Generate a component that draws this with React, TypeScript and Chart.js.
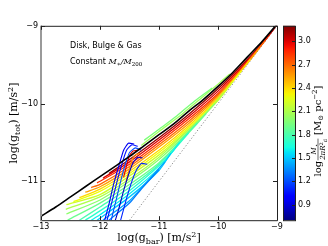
import React, { useEffect, useRef } from 'react';
import { Chart, registerables } from 'chart.js';

Chart.register(...registerables);

const X_TICKS = [-13, -12, -11, -10, -9];
const Y_TICKS = [-11, -10, -9];
const CB_TICKS = [0.9, 1.2, 1.5, 1.8, 2.1, 2.4, 2.7, 3.0];
const X_MIN = -13;
const X_MAX = -9;
const Y_MIN = -11.5;
const Y_MAX = -9;
const CB_MIN = 0.7;
const CB_MAX = 3.2;

// RAR reference relation (black)
const RAR_X = [-13, -12.75, -12.5, -12.25, -12, -11.75, -11.5, -11.25, -11, -10.75, -10.5, -10.25, -10, -9.75, -9.5, -9.25, -9];
const RAR_Y = [-11.45, -11.33, -11.2, -11.07, -10.94, -10.81, -10.68, -10.54, -10.4, -10.26, -10.1, -9.95, -9.78, -9.6, -9.4, -9.2, -8.98];

// 1:1 line (dotted)
const UNITY_X = [-11.5, -9];
const UNITY_Y = [-11.5, -9];

// model curves: surface density (colour) and [log gbar, log gtot] points
const MODEL_SIGMA = [
  3.15, 3.0, 2.85, 2.7, 2.55, 2.4, 2.3, 2.2, 2.1, 2.0, 1.9,
  2.05, 1.95,
  1.8, 1.7, 1.6, 1.5, 1.42, 1.32,
  3.0, 2.6,
  1.2, 1.05, 0.95, 0.85, 1.1,
];
const MODEL_CURVES = [
  [[-9.0, -8.99], [-9.25, -9.22], [-9.5, -9.43], [-10, -9.81], [-10.5, -10.14], [-11, -10.44], [-11.5, -10.72], [-11.85, -10.9]],
  [[-9.05, -9.04], [-9.25, -9.23], [-9.5, -9.45], [-10, -9.84], [-10.5, -10.17], [-11, -10.47], [-11.5, -10.75], [-11.95, -10.96]],
  [[-9.12, -9.11], [-9.5, -9.46], [-10, -9.87], [-10.5, -10.2], [-11, -10.5], [-11.5, -10.78], [-12.05, -11.02]],
  [[-9.2, -9.19], [-9.5, -9.47], [-10, -9.89], [-10.5, -10.23], [-11, -10.53], [-11.5, -10.81], [-12, -11.04], [-12.15, -11.08]],
  [[-9.3, -9.29], [-9.6, -9.57], [-10, -9.91], [-10.5, -10.26], [-11, -10.56], [-11.5, -10.84], [-12, -11.07], [-12.25, -11.14]],
  [[-9.45, -9.43], [-9.75, -9.71], [-10, -9.93], [-10.5, -10.29], [-11, -10.6], [-11.5, -10.87], [-12, -11.1], [-12.35, -11.21]],
  [[-9.6, -9.58], [-10, -9.94], [-10.5, -10.31], [-11, -10.63], [-11.5, -10.9], [-12, -11.13], [-12.45, -11.26]],
  [[-9.75, -9.72], [-10, -9.96], [-10.5, -10.33], [-11, -10.66], [-11.5, -10.93], [-12, -11.17], [-12.57, -11.3]],
  [[-9.9, -9.86], [-10.2, -10.12], [-10.5, -10.34], [-11, -10.69], [-11.5, -10.97], [-12, -11.2], [-12.58, -11.36]],
  [[-10.05, -10.0], [-10.5, -10.36], [-11, -10.72], [-11.5, -11.0], [-12, -11.24], [-12.57, -11.42]],
  [[-10.2, -10.13], [-10.5, -10.38], [-11, -10.76], [-11.5, -11.04], [-12, -11.28], [-12.55, -11.5]],
  [[-9.8, -9.62], [-10, -9.75], [-10.3, -9.94], [-10.6, -10.13], [-11, -10.36], [-11.3, -10.54]],
  [[-10.1, -9.8], [-10.4, -9.97], [-10.7, -10.16], [-11, -10.33], [-11.25, -10.47]],
  [[-10.35, -10.25], [-10.6, -10.45], [-11, -10.78], [-11.5, -11.08], [-12, -11.33], [-12.35, -11.5]],
  [[-10.5, -10.38], [-10.75, -10.6], [-11, -10.8], [-11.5, -11.12], [-12, -11.38], [-12.25, -11.5]],
  [[-10.65, -10.5], [-11, -10.83], [-11.5, -11.16], [-12, -11.43], [-12.15, -11.5]],
  [[-10.8, -10.64], [-11, -10.86], [-11.5, -11.2], [-12.05, -11.5]],
  [[-10.9, -10.75], [-11.2, -11.0], [-11.5, -11.25], [-11.95, -11.5]],
  [[-11.0, -10.85], [-11.3, -11.1], [-11.5, -11.28], [-11.85, -11.5]],
  [[-11.36, -10.6], [-11.44, -10.61], [-11.5, -10.67], [-11.55, -10.8], [-11.6, -10.95]],
  [[-11.32, -10.64], [-11.4, -10.66], [-11.46, -10.73], [-11.51, -10.86], [-11.56, -11.0]],
  [[-11.3, -10.6], [-11.4, -10.57], [-11.5, -10.63], [-11.57, -10.78], [-11.65, -11.0], [-11.73, -11.25], [-11.81, -11.5]],
  [[-11.36, -10.55], [-11.46, -10.53], [-11.55, -10.6], [-11.63, -10.78], [-11.71, -11.0], [-11.8, -11.27], [-11.88, -11.5]],
  [[-11.42, -10.52], [-11.52, -10.51], [-11.6, -10.6], [-11.68, -10.8], [-11.77, -11.04], [-11.85, -11.3], [-11.92, -11.5]],
  [[-11.28, -10.7], [-11.36, -10.69], [-11.44, -10.76], [-11.51, -10.9], [-11.6, -11.12], [-11.68, -11.35], [-11.74, -11.5]],
  [[-11.2, -10.78], [-11.3, -10.77], [-11.38, -10.85], [-11.46, -11.0], [-11.55, -11.22], [-11.65, -11.5]],
];
const HOOK_START = 19;

// matplotlib "jet" colormap segments
const JET_R = [[0, 0], [0.35, 0], [0.66, 1], [0.89, 1], [1, 0.5]];
const JET_G = [[0, 0], [0.125, 0], [0.375, 1], [0.64, 1], [0.91, 0], [1, 0]];
const JET_B = [[0, 0.5], [0.11, 1], [0.34, 1], [0.65, 0], [1, 0]];

function seg(pts: number[][], t: number) {
  for (let i = 1; i < pts.length; i++) {
    if (t <= pts[i][0]) {
      const [x0, y0] = pts[i - 1];
      const [x1, y1] = pts[i];
      return y0 + ((t - x0) / (x1 - x0)) * (y1 - y0);
    }
  }
  return pts[pts.length - 1][1];
}
function jet(t: number) {
  const c = Math.max(0, Math.min(1, t));
  const r = Math.round(seg(JET_R, c) * 255);
  const g = Math.round(seg(JET_G, c) * 255);
  const b = Math.round(seg(JET_B, c) * 255);
  return `rgb(${r},${g},${b})`;
}
function sigmaColor(s: number) {
  return jet((s - CB_MIN) / (CB_MAX - CB_MIN));
}

const SANS = '"DejaVu Sans"';
const SERIF = '"DejaVu Serif"';
const minus = (v: number) => (v < 0 ? '\u2212' + Math.abs(v) : String(v));

type Part = { t: string; size: number; fam?: string; style?: string; dy?: number };
function partsWidth(ctx: CanvasRenderingContext2D, parts: Part[]) {
  let w = 0;
  for (const p of parts) {
    ctx.font = `${p.style || ''} ${p.size}px ${p.fam || SERIF}`;
    w += ctx.measureText(p.t).width;
  }
  return w;
}
function drawParts(ctx: CanvasRenderingContext2D, parts: Part[], x: number, y: number, align: 'left' | 'center') {
  const w = partsWidth(ctx, parts);
  let cx = align === 'center' ? x - w / 2 : x;
  ctx.textAlign = 'left';
  ctx.textBaseline = 'alphabetic';
  for (const p of parts) {
    ctx.font = `${p.style || ''} ${p.size}px ${p.fam || SERIF}`;
    ctx.fillText(p.t, cx, y + (p.dy || 0));
    cx += ctx.measureText(p.t).width;
  }
  return w;
}

const decorPlugin = {
  id: 'decor',
  afterDraw(chart: any) {
    const ctx: CanvasRenderingContext2D = chart.ctx;
    const { left, right, top, bottom } = chart.chartArea;
    const xs = chart.scales.x;
    const ys = chart.scales.y;
    const cb = chart.scales.cb;
    ctx.save();

    // frame
    ctx.strokeStyle = '#222';
    ctx.lineWidth = 1;
    ctx.beginPath();
    ctx.moveTo(left, top + 0.5);
    ctx.lineTo(right + 0.5, top + 0.5);
    ctx.lineTo(right + 0.5, bottom + 0.5);
    ctx.lineTo(left, bottom + 0.5);
    ctx.stroke();
    ctx.strokeStyle = '#9a9a9a';
    ctx.lineWidth = 2;
    ctx.beginPath();
    ctx.moveTo(left, top);
    ctx.lineTo(left, bottom + 1);
    ctx.stroke();

    // inward ticks
    ctx.strokeStyle = '#222';
    ctx.lineWidth = 1;
    ctx.beginPath();
    for (const v of X_TICKS) {
      const px = Math.round(xs.getPixelForValue(v)) + 0.5;
      ctx.moveTo(px, bottom);
      ctx.lineTo(px, bottom - 4);
      ctx.moveTo(px, top);
      ctx.lineTo(px, top + 4);
    }
    for (const v of Y_TICKS) {
      const py = Math.round(ys.getPixelForValue(v)) + 0.5;
      ctx.moveTo(left, py);
      ctx.lineTo(left + 4, py);
      ctx.moveTo(right, py);
      ctx.lineTo(right - 4, py);
    }
    ctx.stroke();

    // colorbar
    const cbL = 283;
    const cbW = 12;
    const cbTop = cb.getPixelForValue(CB_MAX);
    const cbBot = cb.getPixelForValue(CB_MIN);
    const grad = ctx.createLinearGradient(0, cbBot, 0, cbTop);
    for (let i = 0; i <= 40; i++) grad.addColorStop(i / 40, jet(i / 40));
    ctx.fillStyle = grad;
    ctx.fillRect(cbL, cbTop, cbW, cbBot - cbTop);
    ctx.strokeStyle = '#222';
    ctx.lineWidth = 1;
    ctx.strokeRect(cbL + 0.5, cbTop + 0.5, cbW, cbBot - cbTop);
    ctx.beginPath();
    for (const v of CB_TICKS) {
      const py = Math.round(cb.getPixelForValue(v)) + 0.5;
      ctx.moveTo(cbL + cbW, py);
      ctx.lineTo(cbL + cbW - 3, py);
    }
    ctx.stroke();

    ctx.fillStyle = '#000';
    // x title
    drawParts(ctx, [
      { t: 'log(g', size: 11 },
      { t: 'bar', size: 8, dy: 2.5 },
      { t: ') [m/s', size: 11 },
      { t: '2', size: 8, dy: -4 },
      { t: ']', size: 11 },
    ], (left + right) / 2, 241, 'center');

    // y title
    ctx.save();
    ctx.translate(17, (top + bottom) / 2);
    ctx.rotate(-Math.PI / 2);
    drawParts(ctx, [
      { t: 'log(g', size: 11 },
      { t: 'tot', size: 8, dy: 2.5 },
      { t: ') [m/s', size: 11 },
      { t: '2', size: 8, dy: -4 },
      { t: ']', size: 11 },
    ], 0, 0, 'center');
    ctx.restore();

    // colorbar label
    ctx.save();
    ctx.translate(321, 131);
    ctx.rotate(-Math.PI / 2);
    const logParts: Part[] = [{ t: 'log', size: 10 }];
    const numParts: Part[] = [{ t: 'M', size: 7, style: 'italic' }, { t: '\u22C6', size: 5, dy: 1.5 }];
    const denParts: Part[] = [
      { t: '2\u03C0R', size: 7, style: 'italic' },
      { t: '2', size: 5, dy: -2.5 },
      { t: 'd', size: 5, dy: 1.5 },
    ];
    const tailParts: Part[] = [
      { t: ' [M', size: 10 },
      { t: '\u2299', size: 7, dy: 2 },
      { t: ' pc', size: 10 },
      { t: '\u22122', size: 7, dy: -4 },
      { t: ']', size: 10 },
    ];
    const wLog = partsWidth(ctx, logParts);
    const wNum = partsWidth(ctx, numParts);
    const wDen = partsWidth(ctx, denParts);
    const wFrac = Math.max(wNum, wDen) + 2;
    const wTail = partsWidth(ctx, tailParts);
    const total = wLog + wFrac + wTail;
    let cx = -total / 2;
    drawParts(ctx, logParts, cx, 0, 'left');
    cx += wLog;
    drawParts(ctx, numParts, cx + (wFrac - wNum) / 2, -5, 'left');
    drawParts(ctx, denParts, cx + (wFrac - wDen) / 2, 4, 'left');
    ctx.strokeStyle = '#000';
    ctx.lineWidth = 0.6;
    ctx.beginPath();
    ctx.moveTo(cx + 0.5, -3);
    ctx.lineTo(cx + wFrac - 0.5, -3);
    ctx.stroke();
    cx += wFrac;
    drawParts(ctx, tailParts, cx, 0, 'left');
    ctx.restore();

    // annotation
    drawParts(ctx, [{ t: 'Disk, Bulge & Gas', size: 8, fam: SANS }], 70, 48, 'left');
    drawParts(ctx, [
      { t: 'Constant ', size: 8, fam: SANS },
      { t: 'M', size: 8, style: 'italic' },
      { t: '\u2217', size: 6, dy: 2 },
      { t: '/', size: 8, style: 'italic' },
      { t: 'M', size: 8, style: 'italic' },
      { t: '200', size: 5.5, dy: 2 },
    ], 70, 64, 'left');

    ctx.restore();
  },
};

export default function App() {
  const ref = useRef<HTMLCanvasElement>(null);
  useEffect(() => {
    const canvas = ref.current;
    if (!canvas) return;
    const n = MODEL_CURVES.length;
    const datasets: any[] = [
      {
        data: RAR_X.map((x, i) => ({ x, y: RAR_Y[i] })),
        borderColor: '#000',
        borderWidth: 1.6,
        showLine: true,
        pointRadius: 0,
        tension: 0.3,
        order: 0,
        clip: 0,
      },
      {
        data: UNITY_X.map((x, i) => ({ x, y: UNITY_Y[i] })),
        borderColor: '#888',
        borderWidth: 1,
        borderDash: [1.2, 2],
        showLine: true,
        pointRadius: 0,
        order: 1000,
        clip: 0,
      },
    ];
    MODEL_CURVES.forEach((curve, i) => {
      const hook = i >= HOOK_START;
      datasets.push({
        data: curve.map(([x, y]) => ({ x, y })),
        borderColor: sigmaColor(MODEL_SIGMA[i]),
        borderWidth: hook ? 1.1 : 1.3,
        showLine: true,
        pointRadius: 0,
        tension: hook ? 0.15 : 0.25,
        order: 1 + (n - i),
        clip: 0,
      });
    });
    const tickFont = { family: SANS, size: 8 };
    const chart = new Chart(canvas, {
      type: 'scatter',
      data: { datasets },
      options: {
        animation: false,
        responsive: false,
        events: [],
        layout: { padding: { top: 24, left: 0, right: 0, bottom: 0 } },
        plugins: { legend: { display: false }, tooltip: { enabled: false } },
        scales: {
          x: {
            type: 'linear',
            position: 'bottom',
            min: X_MIN,
            max: X_MAX,
            grid: { display: false, drawTicks: false },
            border: { display: false },
            ticks: { font: tickFont, color: '#000', padding: 2, maxRotation: 0, autoSkip: false, callback: (v: any) => minus(Number(v)) },
            afterBuildTicks: (s: any) => { s.ticks = X_TICKS.map((v) => ({ value: v })); },
            afterFit: (s: any) => { s.height = 25; },
          },
          y: {
            type: 'linear',
            position: 'left',
            min: Y_MIN,
            max: Y_MAX,
            grid: { display: false, drawTicks: false },
            border: { display: false },
            ticks: { font: tickFont, color: '#000', padding: 3, autoSkip: false, callback: (v: any) => minus(Number(v)) },
            afterBuildTicks: (s: any) => { s.ticks = Y_TICKS.map((v) => ({ value: v })); },
            afterFit: (s: any) => { s.width = 41; },
          },
          cb: {
            type: 'linear',
            position: 'right',
            min: CB_MIN,
            max: CB_MAX,
            grid: { display: false, drawTicks: false },
            border: { display: false },
            ticks: { font: tickFont, color: '#000', padding: 21, autoSkip: false, callback: (v: any) => Number(v).toFixed(1) },
            afterBuildTicks: (s: any) => { s.ticks = CB_TICKS.map((v) => ({ value: v })); },
            afterFit: (s: any) => { s.width = 51; },
          },
        },
      },
      plugins: [decorPlugin],
    } as any);
    return () => chart.destroy();
  }, []);
  return (
    <div style={{ position: 'fixed', left: 0, top: 0, width: 328, height: 246, background: '#fff' }}>
      <canvas ref={ref} width={328} height={246} style={{ display: 'block', width: 328, height: 246 }} />
    </div>
  );
}
